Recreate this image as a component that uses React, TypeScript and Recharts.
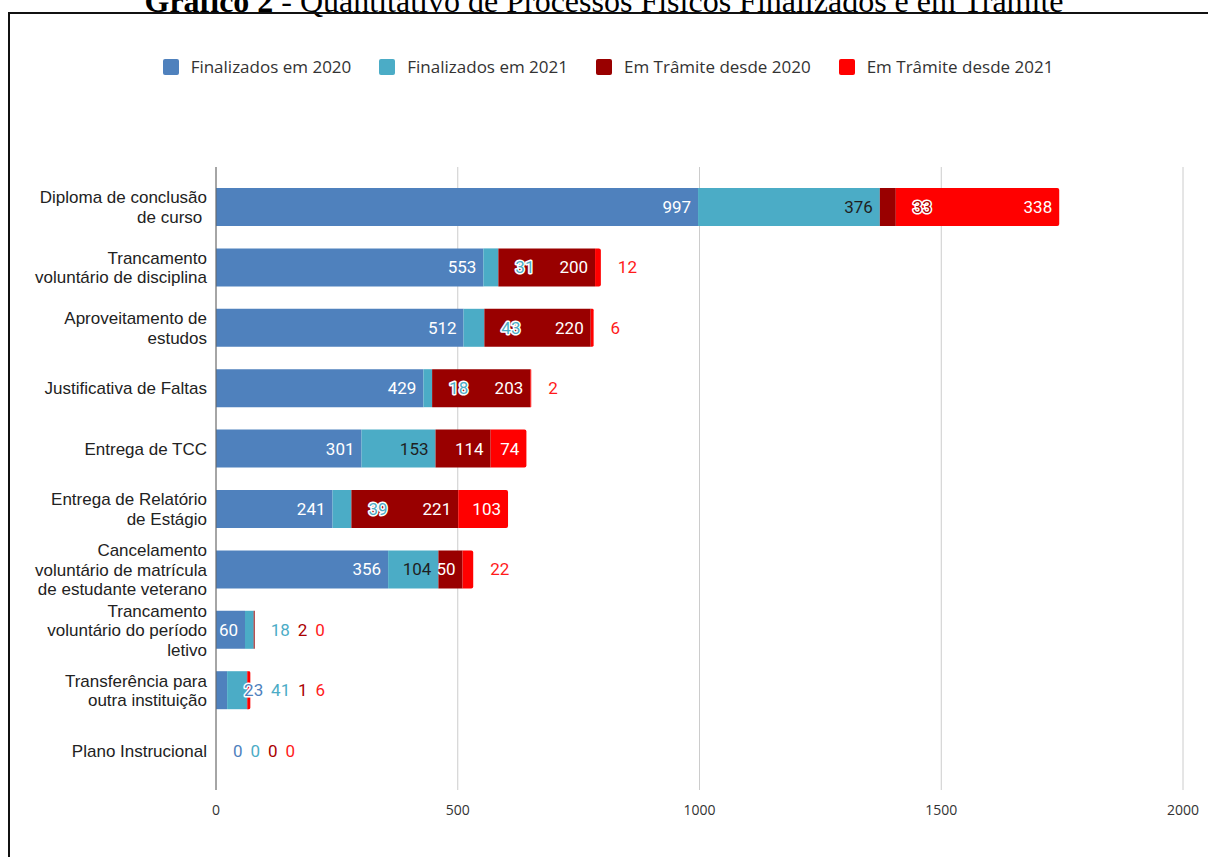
import { Bar, BarChart, CartesianGrid, LabelList, ReferenceDot, XAxis, YAxis } from "recharts";

const CATEGORIES = [
  "Diploma de conclusão\nde curso ",
  "Trancamento\nvoluntário de disciplina",
  "Aproveitamento de\nestudos",
  "Justificativa de Faltas",
  "Entrega de TCC",
  "Entrega de Relatório\nde Estágio",
  "Cancelamento\nvoluntário de matrícula\nde estudante veterano",
  "Trancamento\nvoluntário do período\nletivo",
  "Transferência para\noutra instituição",
  "Plano Instrucional",
];
const FIN_2020 = [997, 553, 512, 429, 301, 241, 356, 60, 23, 0];
const FIN_2021 = [376, 31, 43, 18, 153, 39, 104, 18, 41, 0];
const TRAM_2020 = [33, 200, 220, 203, 114, 221, 50, 2, 1, 0];
const TRAM_2021 = [338, 12, 6, 2, 74, 103, 22, 0, 6, 0];
const X_TICKS = [0, 500, 1000, 1500, 2000];

const SERIES = [
  { key: "f2020", name: "Finalizados em 2020", color: "#4f81bd", inner: "#ffffff", text: "#4f81bd" },
  { key: "f2021", name: "Finalizados em 2021", color: "#4bacc6", inner: "#1f1f1f", text: "#4bacc6" },
  { key: "t2020", name: "Em Trâmite desde 2020", color: "#990000", inner: "#ffffff", text: "#aa0000" },
  { key: "t2021", name: "Em Trâmite desde 2021", color: "#ff0000", inner: "#ffffff", text: "#ff1a1a" },
];

const data = CATEGORIES.map((name, i) => ({
  name,
  f2020: FIN_2020[i],
  f2021: FIN_2021[i],
  t2020: TRAM_2020[i],
  t2021: TRAM_2021[i],
}));

const W = 1208;
const H = 857;
const Y_W = 216;
const RIGHT = 25;
const MAX = 2000;
const K = (W - Y_W - RIGHT) / MAX; // px per unit on the value axis
const DIGIT = 9.5;

type Row = (typeof data)[number];
type Placed = { x: number; anchor: "start" | "end"; inside: boolean };

const val = (row: Row, si: number) => row[SERIES[si].key as "f2020"];

// inside the segment when the number fits, otherwise just after it,
// pushed right so the outside numbers don't run into each other
function layoutRow(row: Row, left: number): Placed[] {
  let cum = 0;
  let prevEnd = -Infinity;
  return SERIES.map((_, si) => {
    const v = val(row, si);
    cum += v;
    const segEnd = left + cum * K;
    const tw = String(v).length * DIGIT;
    if (tw + 5 <= v * K) return { x: segEnd - 7, anchor: "end", inside: true };
    const x = Math.max(segEnd + 17, prevEnd + 8);
    prevEnd = x + tw;
    return { x, anchor: "start", inside: false };
  });
}

function ValueText({ row, si, left, cy }: { row: Row; si: number; left: number; cy: number }) {
  const spot = layoutRow(row, left)[si];
  const s = SERIES[si];
  return (
    <text
      x={spot.x}
      y={cy}
      textAnchor={spot.anchor}
      dominantBaseline="central"
      fontFamily="Roboto, sans-serif"
      fontSize={17}
      fill={spot.inside ? s.inner : s.text}
      stroke={spot.inside ? "none" : "#ffffff"}
      strokeWidth={spot.inside ? 0 : 3}
      strokeLinejoin="round"
      paintOrder="stroke"
    >
      {val(row, si)}
    </text>
  );
}

// the label list is fed the category name so each label finds its own row
function segmentLabel(si: number) {
  return (props: any) => {
    const { x, y, height, value } = props;
    const row = data.find((r) => r.name === value);
    if (!row || val(row, si) === 0) return null;
    let start = 0;
    for (let j = 0; j < si; j++) start += val(row, j);
    return <ValueText row={row} si={si} left={x - start * K} cy={y + height / 2} />;
  };
}

// zero-width segments get no rectangle, so their "0" is hung on a reference dot
const ZERO_SPOTS = data.flatMap((row, ri) =>
  SERIES.map((_, si) => {
    let cum = 0;
    for (let j = 0; j <= si; j++) cum += val(row, j);
    return { ri, si, cum, zero: val(row, si) === 0 };
  }).filter((d) => d.zero)
);

function CategoryTick(props: any) {
  const { x, y, payload } = props;
  const lines = String(payload.value).split("\n");
  const lh = 19.5;
  const top = y - ((lines.length - 1) * lh) / 2;
  return (
    <text
      x={x}
      y={top}
      textAnchor="end"
      dominantBaseline="central"
      fontFamily="'Liberation Sans', Arial, sans-serif"
      fontSize={17}
      fill="#222"
      xmlSpace="preserve"
    >
      {lines.map((l, i) => (
        <tspan key={i} x={x} y={top + i * lh}>
          {l}
        </tspan>
      ))}
    </text>
  );
}

function LegendRow() {
  return (
    <div
      style={{
        position: "absolute",
        top: 57,
        left: 4,
        width: W,
        display: "flex",
        justifyContent: "center",
        gap: 28,
        fontFamily: "'Open Sans', sans-serif",
        fontSize: 17,
        color: "#333",
        lineHeight: "20px",
      }}
    >
      {SERIES.map((s) => (
        <div key={s.key} style={{ display: "flex", alignItems: "center" }}>
          <span
            style={{
              width: 16,
              height: 16,
              borderRadius: 2,
              background: s.color,
              marginRight: 12,
              display: "inline-block",
            }}
          />
          {s.name}
        </div>
      ))}
    </div>
  );
}

export default function App() {
  return (
    <div style={{ position: "relative", width: W, height: H, overflow: "hidden", background: "#fff" }}>
      <style>{"body{margin:0;overflow:hidden}"}</style>
      <div
        style={{
          position: "absolute",
          top: -17,
          left: 0,
          width: W,
          textAlign: "center",
          fontFamily: "'Liberation Serif', 'Times New Roman', serif",
          fontSize: 32,
          color: "#000",
          whiteSpace: "nowrap",
        }}
      >
        <b>Gráfico 2</b> - Quantitativo de Processos Físicos Finalizados e em Trâmite
      </div>
      <div
        style={{
          position: "absolute",
          top: 12,
          left: 8,
          width: W + 40,
          height: H + 40,
          border: "2px solid #111",
        }}
      />
      <LegendRow />
      <div style={{ position: "absolute", top: 0, left: 0 }}>
        <BarChart
          width={W}
          height={H}
          data={data}
          layout="vertical"
          margin={{ top: 167, right: RIGHT, bottom: 37, left: 0 }}
          barSize={38}
        >
          <CartesianGrid horizontal={false} stroke="#cccccc" />
          <XAxis
            type="number"
            domain={[0, MAX]}
            ticks={X_TICKS}
            axisLine={false}
            tickLine={false}
            tickMargin={9}
            tick={{ fill: "#333", fontSize: 14, fontFamily: "'Open Sans', sans-serif" }}
          />
          <YAxis
            type="category"
            dataKey="name"
            width={Y_W}
            interval={0}
            tickLine={false}
            tickMargin={3}
            axisLine={{ stroke: "#666" }}
            padding={{ top: 10, bottom: 9 }}
            tick={<CategoryTick />}
          />
          {SERIES.map((s, si) => (
            <Bar
              key={s.key}
              dataKey={s.key}
              name={s.name}
              stackId="a"
              fill={s.color}
              isAnimationActive={false}
              radius={si === SERIES.length - 1 ? [0, 2, 2, 0] : 0}
            >
              <LabelList
                valueAccessor={(entry: any) => entry?.payload?.name}
                content={segmentLabel(si)}
              />
            </Bar>
          ))}
          {ZERO_SPOTS.map(({ ri, si, cum }) => (
            <ReferenceDot
              key={`z-${ri}-${si}`}
              x={cum}
              y={data[ri].name}
              r={1}
              fill="none"
              stroke="none"
              label={(p: any) => {
                const vb = p.viewBox ?? {};
                const cx = vb.x + (vb.width ?? 0) / 2;
                const cy = vb.y + (vb.height ?? 0) / 2;
                return <ValueText row={data[ri]} si={si} left={cx - cum * K} cy={cy} />;
              }}
            />
          ))}
        </BarChart>
      </div>
    </div>
  );
}
